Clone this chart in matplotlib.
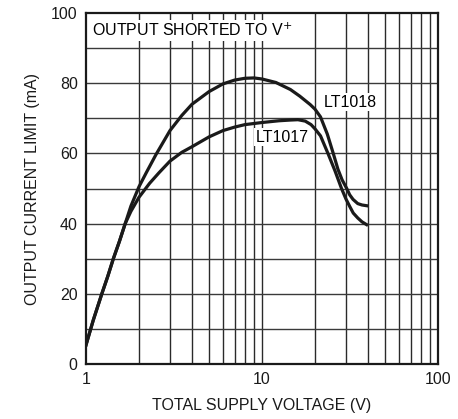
import matplotlib.pyplot as plt
from matplotlib.ticker import FixedLocator, NullFormatter

plt.rcParams['font.family'] = ['Liberation Sans', 'DejaVu Sans']

# curve data
lt1018_v = [1.0, 1.1, 1.23, 1.33, 1.43, 1.55, 1.67, 1.8, 2.0, 2.2, 2.5, 3.0, 3.5, 4.0,
            5.0, 6.0, 7.0, 8.0, 9.0, 10.0, 12.0, 14.5, 16.4, 18.8, 20.0, 21.5, 23.5,
            25.4, 27.0, 28.5, 30.3, 31.5, 32.9, 35.0, 37.0, 39.3]
lt1018_i = [5.4, 12.5, 20.0, 25.0, 30.0, 35.0, 40.0, 45.0, 50.5, 54.5, 59.7, 66.5, 70.8, 74.0,
            77.6, 79.8, 80.9, 81.4, 81.5, 81.2, 80.2, 78.2, 76.3, 73.9, 72.6, 70.4, 65.5,
            60.0, 55.5, 52.5, 50.0, 48.2, 46.9, 45.7, 45.3, 45.1]

lt1017_v = [1.0, 1.1, 1.23, 1.33, 1.43, 1.55, 1.67, 1.8, 2.0, 2.3, 2.6, 3.0, 3.5, 4.0,
            5.0, 6.0, 7.0, 8.0, 10.0, 12.5, 14.5, 16.0, 17.6, 19.0, 20.0, 21.5, 23.7,
            26.0, 28.3, 30.0, 31.5, 33.0, 35.0, 37.0, 39.3]
lt1017_i = [5.4, 12.5, 20.0, 25.0, 30.0, 35.0, 40.0, 43.5, 47.5, 51.5, 54.5, 57.8, 60.3, 61.9,
            64.7, 66.5, 67.5, 68.2, 68.8, 69.3, 69.5, 69.6, 69.2, 68.2, 67.0, 65.0, 60.0,
            55.0, 50.0, 47.0, 44.9, 43.0, 41.6, 40.5, 39.7]

x_major = [1, 10, 100]
x_grid = [2, 3, 4, 5, 6, 7, 8, 9, 10, 20, 30, 40, 50, 60, 70, 80, 90]
y_ticks = [0, 20, 40, 60, 80, 100]
y_grid = [10, 20, 30, 40, 50, 60, 70, 80, 90]

fig = plt.figure(figsize=(4.58, 4.19), dpi=100)
ax = fig.add_axes([86 / 458, 1 - 364 / 419, 352 / 458, 351 / 419])

ax.set_xscale('log')
ax.set_xlim(1, 100)
ax.set_ylim(0, 100)

for xv in x_grid:
    ax.axvline(xv, color='#2a2a2a', lw=1.0, zorder=1)
for yv in y_grid:
    ax.axhline(yv, color='#3a3a3a', lw=1.0, zorder=1)

ax.plot(lt1018_v, lt1018_i, color='#1a1a1a', lw=2.3, zorder=3, solid_joinstyle='round')
ax.plot(lt1017_v, lt1017_i, color='#1a1a1a', lw=2.3, zorder=3, solid_joinstyle='round')

box = dict(facecolor='white', edgecolor='none', pad=1.0)
ax.text(31.6, 74.6, 'LT1018', fontsize=11.5, ha='center', va='center', bbox=box, zorder=4)
ax.text(13.0, 64.6, 'LT1017', fontsize=11.5, ha='center', va='center', bbox=box, zorder=4)
ax.text(1.08, 95, 'OUTPUT SHORTED TO V$^{+}$', fontsize=11.5, ha='left', va='center',
        bbox=box, zorder=4)

ax.xaxis.set_major_locator(FixedLocator(x_major))
ax.xaxis.set_minor_locator(FixedLocator([]))
ax.xaxis.set_minor_formatter(NullFormatter())
ax.set_xticks(x_major)
ax.set_xticklabels(['1', '10', '100'])
ax.set_yticks(y_ticks)
ax.tick_params(length=0, labelsize=11.5, pad=6, colors='#1a1a1a')

for s in ax.spines.values():
    s.set_linewidth(1.6)
    s.set_color('#1a1a1a')
    s.set_zorder(5)

ax.set_xlabel('TOTAL SUPPLY VOLTAGE (V)', fontsize=11.5, labelpad=8, color='#1a1a1a')
ax.set_ylabel('OUTPUT CURRENT LIMIT (mA)', fontsize=11.5, labelpad=8, color='#1a1a1a')

fig.savefig('out.png', dpi=100)
